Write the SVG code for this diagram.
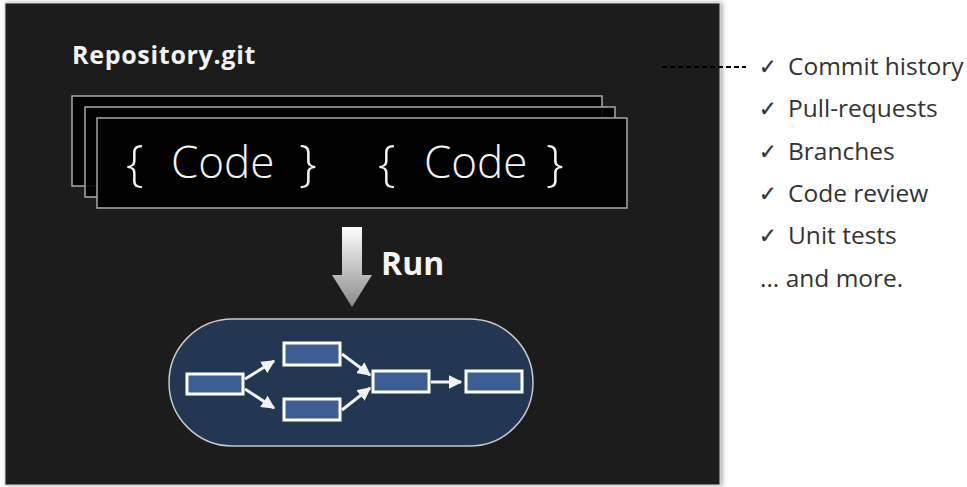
<svg xmlns="http://www.w3.org/2000/svg" width="967" height="487" viewBox="0 0 967 487">
<defs>
<linearGradient id="ag" x1="0" y1="0" x2="0" y2="1">
<stop offset="0" stop-color="#ffffff"/>
<stop offset="1" stop-color="#8a8a8a"/>
</linearGradient>
<marker id="wh" viewBox="0 0 10 10" refX="9" refY="5" markerWidth="4.5" markerHeight="4.5" orient="auto" markerUnits="strokeWidth">
<path d="M0,0 L10,5 L0,10 z" fill="#f2f2f2"/>
</marker>
<filter id="sh" x="-5%" y="-5%" width="110%" height="110%">
<feDropShadow dx="2" dy="0" stdDeviation="2" flood-color="#000" flood-opacity="0.35"/>
</filter>
</defs>
<style>
.code{fill:#000;stroke:#a8a8a8;stroke-width:1.5}
.ct{font-family:"Open Sans","Noto Sans",sans-serif;font-weight:300;font-size:44px;fill:#f4f4f4}
.br{font-family:"Open Sans","Noto Sans",sans-serif;font-weight:300;font-size:50px;fill:#f4f4f4}
.box{fill:#3d5e95;stroke:#ffffff;stroke-width:3}
.conn{stroke:#f2f2f2;stroke-width:3;fill:none;marker-end:url(#wh)}
.li{font-family:"Open Sans","Noto Sans",sans-serif;font-size:24.5px;fill:#333}
.ck{font-family:"DejaVu Sans",sans-serif;font-size:21px;fill:#333;stroke:#333;stroke-width:0.4}
</style>
<rect width="967" height="487" fill="#ffffff"/>
<g id="panel">
<rect x="5" y="3" width="715" height="482" fill="#1e1e1e" stroke="#cfcfcf" stroke-width="1" filter="url(#sh)"/>
</g>
<g id="repo-title">
<text x="72" y="64" font-family="'Open Sans','Noto Sans',sans-serif" font-weight="bold" font-size="25" letter-spacing="0.7" fill="#f4f4f4">Repository.git</text>
</g>
<g id="code-stack">
<rect class="code" x="72" y="96" width="530" height="90" fill-opacity="0.9"/>
<rect class="code" x="85" y="107" width="530" height="90" fill-opacity="0.9"/>
<rect class="code" x="97" y="118" width="530" height="90"/>
<text class="br" x="126" y="181">{</text>
<text class="ct" x="171" y="178">Code</text>
<text class="br" x="299" y="181">}</text>
<text class="br" x="378" y="181">{</text>
<text class="ct" x="424" y="178">Code</text>
<text class="br" x="546" y="181">}</text>
</g>
<g id="run-arrow">
<path d="M342,227 H362 V275 H372 L352,307 L332,275 H342 Z" fill="url(#ag)"/>
<text x="381" y="275" font-family="'Open Sans','Noto Sans',sans-serif" font-weight="bold" font-size="32" fill="#f4f4f4">Run</text>
</g>
<g id="pipeline">
<rect x="169" y="319" width="364" height="127" rx="63.5" fill="#233752" stroke="#c8c8c8" stroke-width="1.5"/>
</g>
<g id="n1"><rect class="box" x="187" y="374" width="56" height="20"/></g>
<g id="n2"><rect class="box" x="284" y="343" width="56" height="22"/></g>
<g id="n3"><rect class="box" x="284" y="399" width="56" height="21"/></g>
<g id="n4"><rect class="box" x="373" y="371" width="56" height="21"/></g>
<g id="n5"><rect class="box" x="466" y="371" width="56" height="21"/></g>
<g id="connectors">
<line class="conn" x1="245" y1="379" x2="274" y2="361"/>
<line class="conn" x1="245" y1="389" x2="274" y2="408"/>
<line class="conn" x1="342" y1="354" x2="370" y2="375"/>
<line class="conn" x1="342" y1="410" x2="370" y2="388"/>
<line class="conn" x1="431" y1="382" x2="461" y2="382"/>
<line x1="662" y1="67" x2="746" y2="67" stroke="#000" stroke-width="2" stroke-dasharray="5 3"/>
</g>
<g id="features">
<text class="ck" x="759" y="74">✓</text>
<text class="li" x="788" y="75">Commit history</text>
<text class="ck" x="759" y="116">✓</text>
<text class="li" x="788" y="117">Pull-requests</text>
<text class="ck" x="759" y="159">✓</text>
<text class="li" x="788" y="160">Branches</text>
<text class="ck" x="759" y="201">✓</text>
<text class="li" x="788" y="202">Code review</text>
<text class="ck" x="759" y="243">✓</text>
<text class="li" x="788" y="244">Unit tests</text>
<text class="li" x="760" y="287">... and more.</text>
</g>
</svg>
